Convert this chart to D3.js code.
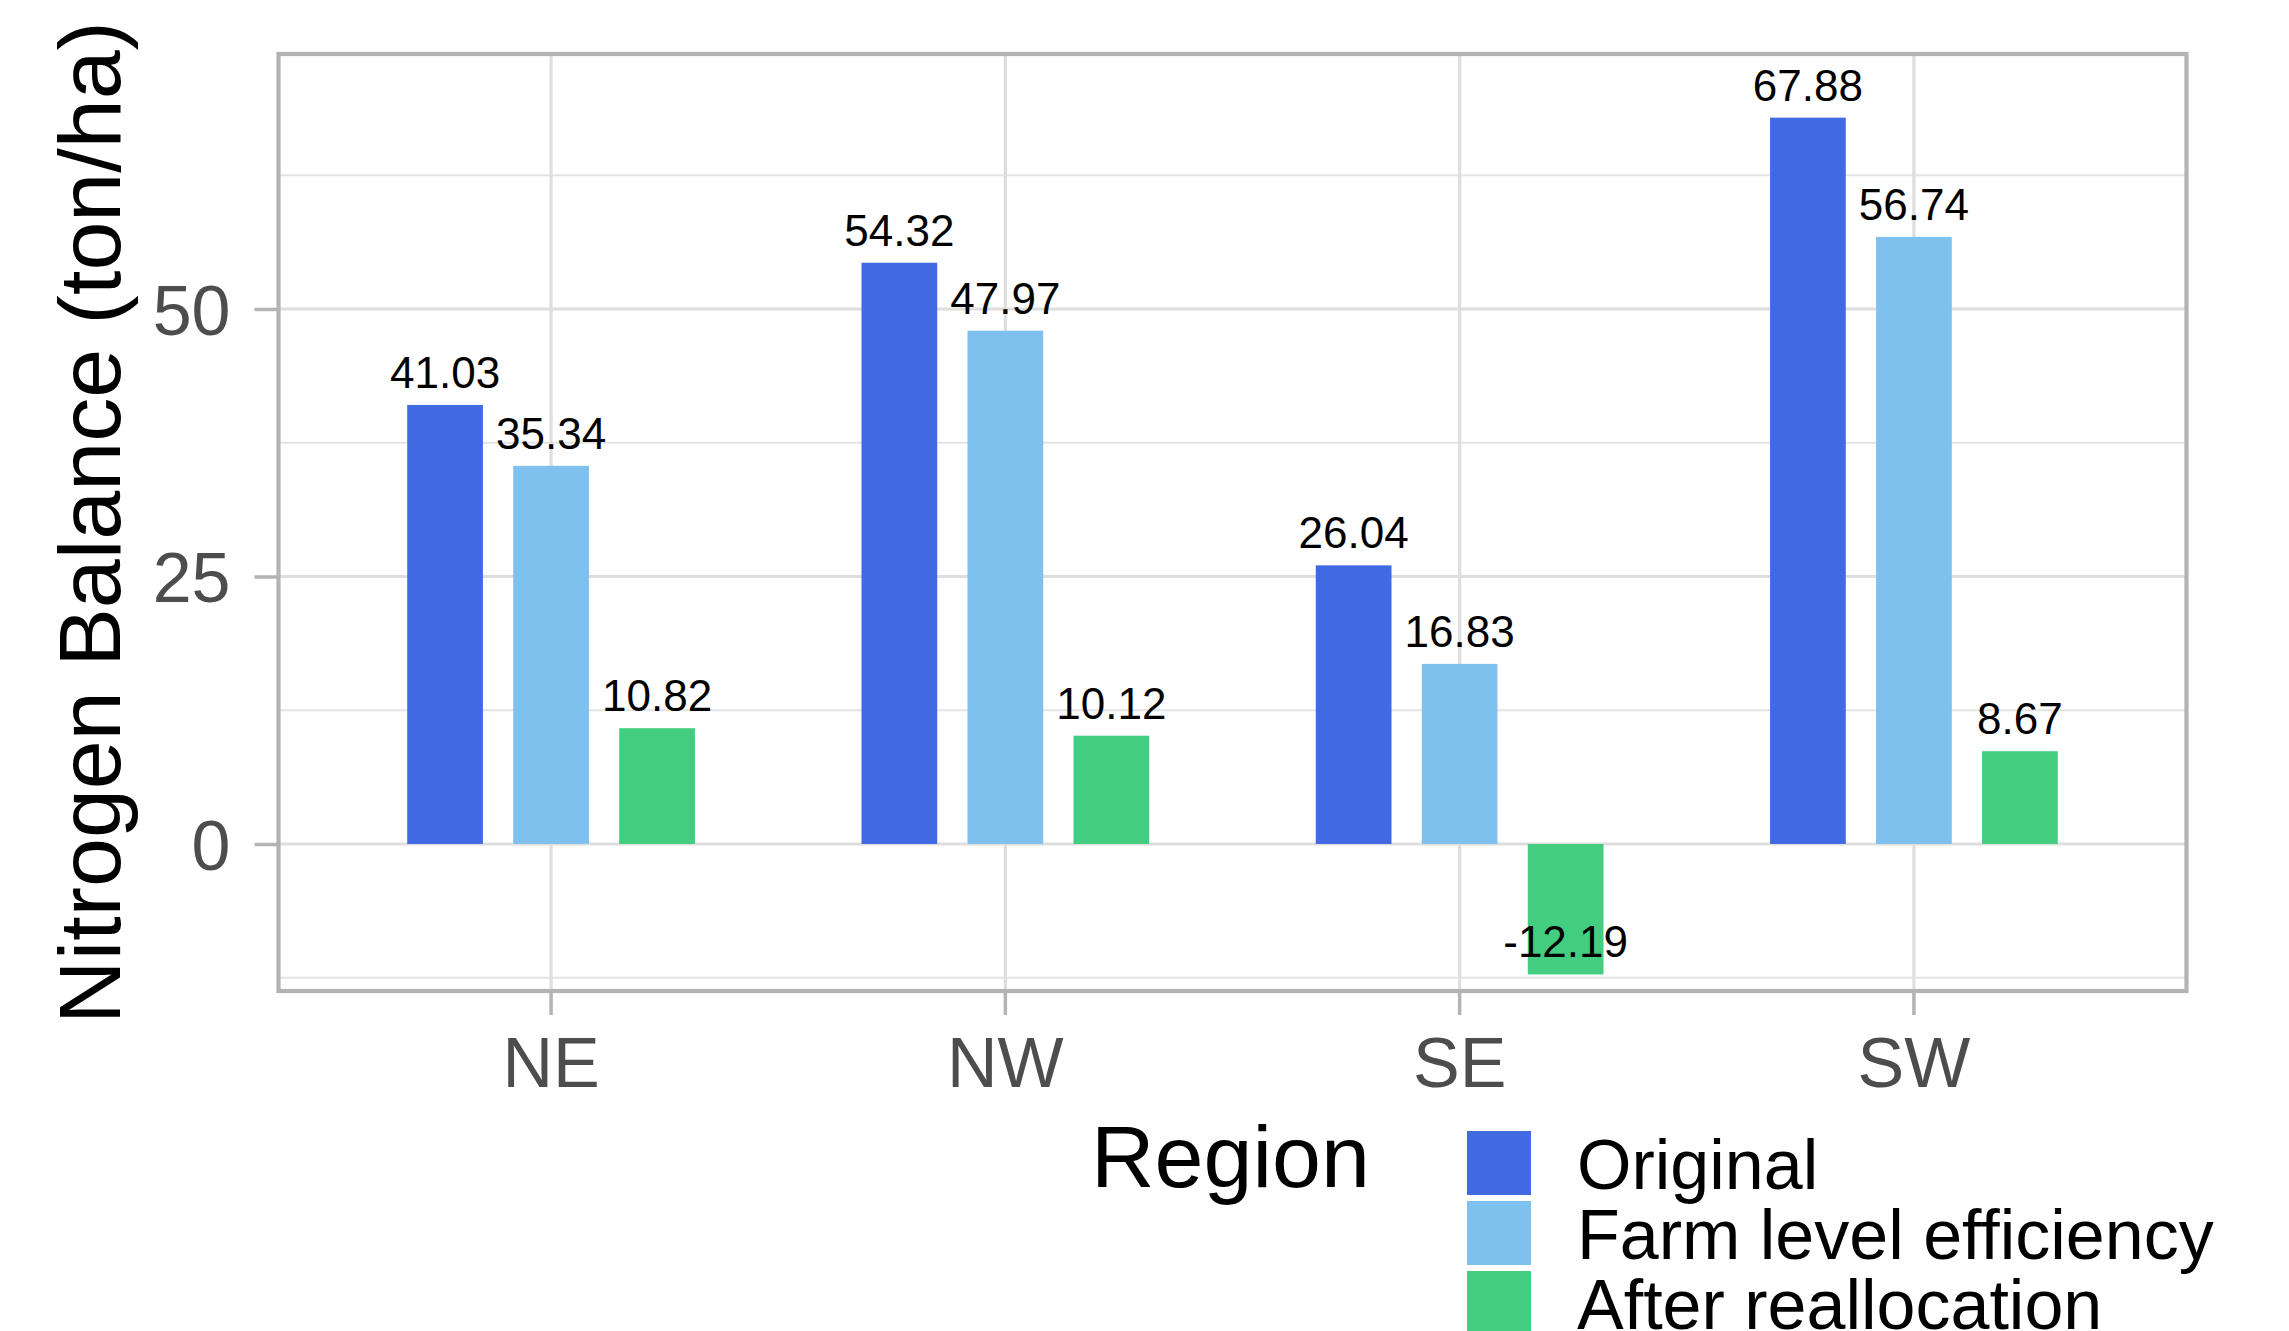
<!DOCTYPE html>
<html>
<head>
<meta charset="utf-8">
<script src="https://cdn.jsdelivr.net/npm/d3@7"></script>
<style>
  html, body { margin: 0; padding: 0; background: #ffffff; }
  svg { display: block; }
  text { font-family: "Liberation Sans", Arial, Helvetica, sans-serif; }
</style>
</head>
<body>
<svg id="chart" width="2289" height="1331"></svg>
<script>
// Nitrogen balance per region under three scenarios
const regions = ["NE", "NW", "SE", "SW"];
const scenarios = ["Original", "Farm level efficiency", "After reallocation"];
const originalValues = [41.03, 54.32, 26.04, 67.88];
const farmLevelValues = [35.34, 47.97, 16.83, 56.74];
const afterReallocationValues = [10.82, 10.12, -12.19, 8.67];
const scenarioColors = ["#4169E1", "#7EC0EE", "#43CD80"];
const yMajorTicks = [0, 25, 50];
const yMinorTicks = [-12.5, 12.5, 37.5, 62.5];
const yTitle = "Nitrogen Balance (ton/ha)";
const legendTitle = "Region";

const seriesValues = [originalValues, farmLevelValues, afterReallocationValues];
const rows = [];
regions.forEach((r, i) => {
  scenarios.forEach((s, j) => {
    rows.push({ region: r, scenario: s, value: seriesValues[j][i] });
  });
});

const svg = d3.select("#chart");
const panel = { left: 278.5, right: 2186.5, top: 54, bottom: 991 };

// Discrete x with 0.6-unit outer expansion on each side
const x = d3.scaleBand()
  .domain(regions)
  .range([panel.left, panel.right])
  .paddingInner(0)
  .paddingOuter(0.1);
const step = x.step();

// Dodge positions within a region (dodge width 0.7, bar width 0.5)
const dodge = d3.scaleBand()
  .domain(scenarios)
  .range([-0.35 * step, 0.35 * step])
  .padding(0);
const barWidth = step * 0.5 / 3;

const y = d3.scaleLinear()
  .domain([-13.74, 73.83])
  .range([panel.bottom, panel.top]);

const color = d3.scaleOrdinal().domain(scenarios).range(scenarioColors);

const center = r => x(r) + x.bandwidth() / 2;
const barCenter = d => center(d.region) + dodge(d.scenario) + dodge.bandwidth() / 2;

// Grid
const grid = svg.append("g");
grid.selectAll("line.minor")
  .data(yMinorTicks)
  .join("line")
  .attr("x1", panel.left).attr("x2", panel.right)
  .attr("y1", d => y(d)).attr("y2", d => y(d))
  .attr("stroke", "#E3E3E3").attr("stroke-width", 2);
grid.selectAll("line.major")
  .data(yMajorTicks)
  .join("line")
  .attr("x1", panel.left).attr("x2", panel.right)
  .attr("y1", d => y(d)).attr("y2", d => y(d))
  .attr("stroke", "#DEDEDE").attr("stroke-width", 3.2);
grid.selectAll("line.vmajor")
  .data(regions)
  .join("line")
  .attr("x1", d => center(d)).attr("x2", d => center(d))
  .attr("y1", panel.top).attr("y2", panel.bottom)
  .attr("stroke", "#DEDEDE").attr("stroke-width", 3.2);

// Bars
svg.append("g")
  .selectAll("rect")
  .data(rows)
  .join("rect")
  .attr("x", d => barCenter(d) - barWidth / 2)
  .attr("width", barWidth)
  .attr("y", d => Math.min(y(d.value), y(0)))
  .attr("height", d => Math.abs(y(d.value) - y(0)))
  .attr("fill", d => color(d.scenario));

// Value labels
svg.append("g")
  .selectAll("text")
  .data(rows)
  .join("text")
  .attr("x", d => barCenter(d))
  .attr("y", d => y(d.value) - 17)
  .attr("text-anchor", "middle")
  .attr("font-size", 44)
  .attr("fill", "#000000")
  .text(d => d.value.toFixed(2));

// Panel border
svg.append("rect")
  .attr("x", panel.left).attr("y", panel.top)
  .attr("width", panel.right - panel.left)
  .attr("height", panel.bottom - panel.top)
  .attr("fill", "none")
  .attr("stroke", "#B3B3B3")
  .attr("stroke-width", 4.2);

// Y axis
const yAxis = svg.append("g")
  .attr("transform", `translate(${panel.left},0)`)
  .call(d3.axisLeft(y).tickValues(yMajorTicks).tickSize(24).tickPadding(24).tickFormat(d3.format("d")));
yAxis.select(".domain").remove();
yAxis.selectAll(".tick line").attr("stroke", "#B3B3B3").attr("stroke-width", 3.5);
yAxis.selectAll(".tick text")
  .attr("font-size", 70)
  .attr("fill", "#4D4D4D")
  .attr("dy", "0.36em")
  .style("font-family", "Liberation Sans, Arial, sans-serif");

// X axis
const xAxis = svg.append("g")
  .attr("transform", `translate(0,${panel.bottom})`)
  .call(d3.axisBottom(x).tickSize(24).tickPadding(0));
xAxis.select(".domain").remove();
xAxis.selectAll(".tick line").attr("stroke", "#B3B3B3").attr("stroke-width", 3.5);
xAxis.selectAll(".tick text")
  .attr("font-size", 70)
  .attr("fill", "#4D4D4D")
  .attr("y", 96)
  .attr("dy", 0)
  .style("font-family", "Liberation Sans, Arial, sans-serif");

// Y axis title
svg.append("text")
  .attr("transform", `translate(120,${(panel.top + panel.bottom) / 2}) rotate(-90)`)
  .attr("text-anchor", "middle")
  .attr("font-size", 88)
  .attr("fill", "#000000")
  .text(yTitle);

// Legend
const legend = svg.append("g");
legend.append("text")
  .attr("x", 1091)
  .attr("y", 1187)
  .attr("font-size", 88)
  .attr("fill", "#000000")
  .text(legendTitle);
const items = legend.selectAll("g.item")
  .data(scenarios)
  .join("g")
  .attr("transform", (d, i) => `translate(0,${i * 70})`);
items.append("rect")
  .attr("x", 1467).attr("y", 1131)
  .attr("width", 64).attr("height", 64)
  .attr("fill", d => color(d));
items.append("text")
  .attr("x", 1577)
  .attr("y", 1189)
  .attr("font-size", 70)
  .attr("fill", "#000000")
  .text(d => d);
</script>
</body>
</html>
